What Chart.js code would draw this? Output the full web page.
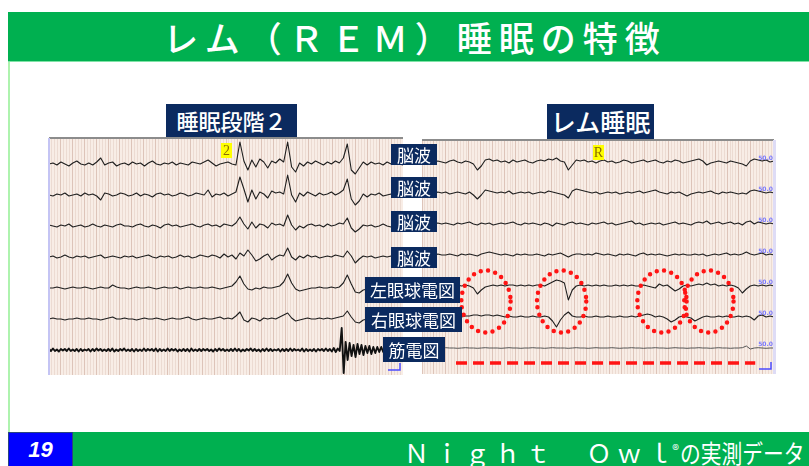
<!DOCTYPE html>
<html lang="ja">
<head>
<meta charset="utf-8">
<script src="https://cdn.jsdelivr.net/npm/chart.js@4.4.1/dist/chart.umd.min.js"></script>
<style>
  body { margin:0; width:809px; height:466px; position:relative; overflow:hidden; background:#fff;
         font-family:"Noto Sans CJK JP", "Noto Sans", sans-serif; }
  .abs { position:absolute; }
  #head { left:8px; top:12px; width:801px; height:49px; background:#00b050; border-bottom:1px solid #7fe3a6; }
  #title { left:0; top:12px; width:830px; text-align:center; color:#fff; font-size:35px; line-height:49px;
           letter-spacing:7px; font-weight:500; white-space:nowrap; }
  #leftRule { left:8px; top:62px; width:2px; height:370px; background:#aef3ae; }
  #foot { left:8px; top:432px; width:801px; height:34px; background:#00b050; }
  #num { left:8px; top:432px; width:63px; height:33px; background:#0000ff; border:1px solid #2a4480; color:#fff;
         font:italic bold 22px "Liberation Sans", Arial, sans-serif; line-height:34px; text-align:center; }
  #footTxt { left:404px; top:432px; color:#fff; font-size:25px; line-height:34px; white-space:nowrap; }
  #footTxt .lat { letter-spacing:5.4px; }
  #footTxt .ell { margin-right:0; }
  #footTxt .reg { font-size:14px; vertical-align:8px; margin-right:1px; }
  #footTxt .jp { display:inline-block; transform:scaleX(0.83); transform-origin:left center; }
  .panel { background:#f8ede6; }
  .lbl { background:#0b2a5f; color:#fff; text-align:center; font-size:17px; white-space:nowrap; }
  .ttl { background:#0b2a5f; color:#fff; text-align:center; white-space:nowrap; font-weight:500; }
</style>
</head>
<body>
<div id="head" class="abs"></div>
<div id="title" class="abs">レム（ＲＥＭ）睡眠の特徴</div>
<div id="leftRule" class="abs"></div>

<div class="abs ttl" style="left:166px;top:104px;width:131px;height:33px;font-size:22px;line-height:33px;">睡眠段階２</div>
<div class="abs ttl" style="left:547px;top:104px;width:107px;height:35px;font-size:25px;line-height:35px;">レム睡眠</div>

<div class="abs panel" style="left:49px;top:138px;width:354px;height:237px;">
  <canvas id="n2Chart" width="354" height="237"></canvas>
</div>
<div class="abs" style="left:49px;top:137px;width:354px;height:2px;background:#8c8c8c;"></div>
<div class="abs" style="left:48px;top:138px;width:2px;height:237px;background:#c4c4f4;"></div>

<div class="abs panel" style="left:422px;top:140px;width:352px;height:234px;">
  <canvas id="remChart" width="352" height="234"></canvas>
</div>
<div class="abs" style="left:422px;top:139px;width:352px;height:2px;background:#8c8c8c;"></div>
<div class="abs" style="left:773px;top:140px;width:3px;height:234px;background:#dedcf6;"></div>

<div class="abs lbl" style="left:391px;top:144px;width:46px;height:21px;line-height:21px;">脳波</div>
<div class="abs lbl" style="left:391px;top:177px;width:46px;height:21px;line-height:21px;">脳波</div>
<div class="abs lbl" style="left:391px;top:211px;width:46px;height:21px;line-height:21px;">脳波</div>
<div class="abs lbl" style="left:391px;top:247px;width:46px;height:21px;line-height:21px;">脳波</div>
<div class="abs lbl" style="left:365px;top:277px;width:95px;height:26px;line-height:26px;">左眼球電図</div>
<div class="abs lbl" style="left:365px;top:307px;width:97px;height:25px;line-height:25px;">右眼球電図</div>
<div class="abs lbl" style="left:383px;top:337px;width:62px;height:25px;line-height:25px;">筋電図</div>

<div id="foot" class="abs"></div>
<div id="num" class="abs">19</div>
<div id="footTxt" class="abs"><span class="lat">Ｎｉｇｈｔ　Ｏｗ</span><span class="ell">ｌ</span><span class="reg">®</span><span class="jp">の実測データ</span></div>

<script>
// 30-second epoch, samples (amplitude roughly in px of the original trace)
const EPOCH_SEC = 30;
const channelNames = ['脳波', '脳波', '脳波', '脳波', '左眼球電図', '右眼球電図', '筋電図'];

// stage 2 sleep (left)
const n2Eeg1 = [0,1,-1,2,0,-2,1,3,0,-1, 1,-1,2,6,-1,1,2,-2,0,1, -1,2,0,1,-2,1,3,0,-1,1,
  0,2,-1,1,0,-1,2,1,0,2, 4,1,-2,0,1,2,0,-1,22,3, -6,4,-3,5,2,-4,3,1,5,2,
  22,-3,-8,1,-2,2,0,3,1,-1, 2,0,3,1,6,20,-6,-10,-4,2, -1,2,0,1,-1,2,0,1,0,-1];
const n2Eeg2 = [0,-1,1,0,2,-1,0,1,-1,2, 0,1,-1,-5,2,1,-1,0,2,1, -1,0,2,-1,1,0,-2,1,2,0,
  1,-1,0,2,1,-1,0,2,1,0, 5,-2,1,0,2,-1,1,3,18,6, -7,5,-4,3,1,-3,4,2,3,1,
  20,0,-7,2,-1,3,1,-1,2,0, 1,3,0,2,5,16,-4,-10,-6,1, -2,1,0,2,-1,0,1,-1,0,1];
const n2Eeg3 = [1,0,-1,1,0,2,-1,0,1,-1, 0,2,0,-1,1,0,-1,1,2,0, 0,-1,1,2,0,-1,1,0,-2,1,
  2,0,1,-1,0,1,2,0,-1,1, 2,0,1,-1,2,1,0,3,9,2, -3,4,-2,2,1,-2,3,1,2,0,
  11,1,-4,0,-2,1,2,0,1,-1, 2,0,1,3,2,8,-2,-6,-3,1, 0,1,-1,0,2,0,-1,1,0,1];
const n2Eeg4 = [0,1,-1,0,2,0,-1,1,0,1, -1,0,1,2,-1,0,1,0,-1,1, 0,1,-1,0,1,2,0,-1,1,0,
  1,-1,0,2,0,1,-1,0,2,1, 0,2,1,-1,3,0,2,-2,4,1, 7,2,-4,-2,1,3,-3,0,2,1,
  9,0,-3,1,-1,2,0,1,-1,0, 1,0,2,1,0,6,1,-6,-2,1, 0,1,-1,0,1,0,1,-1,0,0];
const n2EogL = [0,0,1,0,-1,0,1,0,0,1, 0,-1,0,1,0,0,3,1,0,0, -1,0,1,0,0,1,0,-1,0,1,
  0,0,1,-1,0,1,0,0,1,0, 0,1,0,-1,0,1,2,6,12,4, -1,-2,0,-1,1,0,0,1,2,6,
  14,5,-1,-3,-2,-1,0,0,1,0, 0,1,0,1,5,13,4,-4,-5,-2, -1,0,1,0,0,1,0,-1,0,0];
const n2EogR = [0,1,0,0,-1,0,0,1,0,0, 1,0,0,-1,0,1,2,0,0,1, 0,0,-1,0,1,0,0,1,0,-1,
  0,1,0,0,1,2,0,-1,0,1, 0,0,1,2,0,1,0,3,7,-1, -3,1,0,-2,1,0,1,0,2,4,
  6,1,-2,-1,0,1,0,0,1,0, 1,0,1,2,3,8,2,-3,-4,-1, 0,1,0,0,-1,0,1,0,0,0];
// chin EMG is sampled twice as densely (fast activity + arousal burst)
const n2Emg = [1,-1,1.5,-1,0.5,-1.5,1,-0.5,1,-1, 1.5,-1,0.5,-1,1,-1.5,1,-1,0.5,-0.5,
  1,-1.5,1,-1,1.5,-0.5,1,-1,0.5,-1, 1,-1,1.5,-1.5,0.5,-1,1,-0.5,1.5,-1,
  0.5,-1,1,-1.5,1,-1,0.5,-1,1.5,-1, 1,-0.5,1,-1,1.5,-1.5,1,-1,0.5,-1,
  1.5,-1,1,-0.5,1,-1.5,0.5,-1,1,-1, 1,-1.5,1.5,-1,0.5,-1,1,-1,1,-0.5,
  1,-1,0.5,-1.5,1,-1,1.5,-0.5,1,-1, 0.5,-1,1,-1,1.5,-1,1,-1.5,0.5,-1,
  1,-0.5,1.5,-1,1,-1,0.5,-1.5,1,-1, 1.5,-1,1,-1,0.5,-0.5,1,-1.5,1,-1,
  1,-1,1.5,-1,1,-0.5,0.5,-1,1.5,-1.5, 1,-1,0.5,-1,1,-1.5,1,-0.5,1,-1,
  1.5,-1,1,-1.5,2,-2,1.5,-1,22,-23, 8,-10,7,-6,5,-7,6,-4,5,-5,
  4,-3,4,-4,3,-3,3,-2,3,-2, 2,-2,2,-1.5,2,-2,1.5,-1.5,1,-1];

// REM sleep (right)
const remEeg1 = [0,1,-1,0,1,0,-1,1,2,0, -1,1,0,-2,-8,-4,2,3,1,2, 0,1,-1,2,0,1,2,0,-1,1,
  2,1,3,2,4,1,0,-8,-3,2, 1,2,0,1,-1,1,2,0,1,-1, 0,2,1,-1,0,1,2,0,1,2,
  0,-1,1,0,2,1,-1,0,1,2, 3,1,-3,-1,0,1,0,-1,1,0, -1,-2,-4,1,3,2,1,2,0,1];
const remEeg2 = [0,1,0,-1,1,0,1,-1,0,1, 0,-1,1,-2,-6,-2,3,2,1,0, 1,0,2,-1,0,1,0,1,-1,0,
  1,0,2,1,0,-1,-2,-5,2,4, 3,2,1,0,1,-1,0,1,0,1, -1,0,1,0,1,2,0,1,2,3,
  1,0,-1,1,0,1,-1,-3,-1,0, 1,0,1,2,0,-1,1,0,1,0, -1,0,-1,2,3,2,1,0,1,0];
const remEeg3 = [0,1,-1,0,1,0,1,0,-1,1, 0,1,2,0,-1,1,0,1,-1,0, 1,0,1,2,0,-1,1,0,1,0,
  -1,1,0,-2,1,0,-1,1,2,0, 1,0,-1,1,0,1,2,0,1,-1, 0,1,2,3,0,1,-1,0,1,0,
  1,-1,0,1,2,0,1,0,-1,1, 2,1,3,0,1,2,0,1,2,0, 1,-1,2,3,0,2,1,0,1,0];
const remEeg4 = [0,1,0,-1,1,0,0,1,0,-1, 1,0,1,0,-1,1,2,3,2,1, 0,1,0,-1,1,0,1,0,0,1,
  0,-1,1,0,1,2,0,-2,0,1, 1,0,1,0,2,1,0,1,0,-1, 1,0,1,0,-1,1,2,0,1,0,
  1,0,-1,0,1,0,1,0,0,1, 0,1,-1,0,1,0,1,2,0,1, 0,1,3,1,0,1,2,0,1,0];
const remEogL = [0,0,1,0,-1,0,1,0,0,1, 0,1,0,-2,-8,-4,-1,0,1,0, 1,0,1,1,0,1,0,1,0,1,
  1,0,2,4,6,5,3,-14,-4,0, 1,0,1,0,1,0,1,0,0,1, 0,1,0,1,0,0,1,0,-1,-2,
  2,0,1,-2,-5,-3,0,1,0,1, 2,1,3,1,2,0,1,0,1,0, -2,-7,-3,0,1,0,1,0,1,0];
const remEogR = [0,1,0,0,-1,0,1,0,0,1, 0,1,1,2,2,1,2,2,1,2, 1,0,1,0,0,1,0,0,1,0,
  0,1,0,-4,-10,-3,2,5,1,0, 0,1,0,0,1,0,0,1,0,0, 1,0,0,1,0,1,2,3,2,0,
  1,0,-2,-5,-3,0,1,0,-1,-4, -2,0,1,0,0,1,0,1,0,0, 1,0,1,0,-3,1,2,0,1,0];
const remEmg = [0,0.3,0,-0.3,0,0,0.3,0,0,-0.3, 0,0.3,0,0,-0.3,0,0.3,0,0,0, -0.3,0,0.3,0,0,-0.3,0,0,0.3,0,
  0,-0.3,0,0.3,0,0,0,-0.3,0,0.3, 0,0,-0.3,0,0.3,0,0,0,0.3,0, -0.3,0,0,0.3,0,0,-0.3,0,0,0.3,
  0,0,-0.3,0,0.3,0,0,-0.3,0,0, 0.3,0,0,-0.3,0,0.3,0,0,-0.3,0, 0,0.3,2,-1,0,0.3,0,-0.3,0,0];

const n2Traces = [n2Eeg1, n2Eeg2, n2Eeg3, n2Eeg4, n2EogL, n2EogR, n2Emg];
const remTraces = [remEeg1, remEeg2, remEeg3, remEeg4, remEogL, remEogR, remEmg];

// eye movements circled on the REM record: [centre sec, radius sec]
const remCircles = [[5.45, 2.1], [11.9, 2.1], [20.45, 2.1], [24.45, 2.1]];
const atoniaSpan = [2.9, 28.4];   // dashed line under the flat chin EMG
const epochMarkSec = 15;

const CH_GAP = 31;                // vertical spacing between channels
const offsetOf = i => (channelNames.length - 1 - i) * CH_GAP;

function buildDatasets(traces, emgStyle) {
  return traces.map((tr, i) => {
    const step = EPOCH_SEC / (tr.length - 1);
    const isEmg = i === traces.length - 1;
    return {
      label: channelNames[i],
      data: tr.map((v, k) => ({ x: k * step, y: v + offsetOf(i) })),
      borderColor: isEmg ? emgStyle.color : '#1e1e1e',
      borderWidth: isEmg ? emgStyle.width : 1.1,
      pointRadius: 0,
      tension: 0,
      borderJoinStyle: 'round'
    };
  });
}

const panelDecor = {
  id: 'panelDecor',
  afterDatasetsDraw(chart, args, opts) {
    const { ctx, chartArea: a, scales: { x, y } } = chart;
    ctx.save();
    // epoch marker (yellow tag)
    const mx = x.getPixelForValue(epochMarkSec);
    ctx.fillStyle = '#ffff00';
    ctx.fillRect(mx - 5, a.top + 5, 11, 15);
    ctx.fillStyle = '#8a6d00';
    ctx.font = '14px "Liberation Serif", serif';
    ctx.textAlign = 'center';
    ctx.textBaseline = 'middle';
    ctx.fillText(opts.mark, mx + 0.5, a.top + 13);

    // sensitivity labels at the right end
    if (opts.gainLabel) {
      ctx.fillStyle = '#7a7aff';
      ctx.font = 'bold 6px "DejaVu Sans", sans-serif';
      ctx.textAlign = 'right';
      ctx.textBaseline = 'bottom';
      channelNames.forEach((_, i) => ctx.fillText(opts.gainLabel, a.right - 1, y.getPixelForValue(offsetOf(i)) - 1));
    }

    // blue corner mark
    ctx.strokeStyle = '#4b4bff';
    ctx.lineWidth = 1.5;
    ctx.beginPath();
    ctx.moveTo(a.right - 15, a.bottom - 5);
    ctx.lineTo(a.right - 3, a.bottom - 5);
    ctx.lineTo(a.right - 3, a.bottom - 12);
    ctx.stroke();

    if (opts.circles) {
      const yc = y.getPixelForValue((offsetOf(4) + offsetOf(5)) / 2);
      const ry = Math.abs(y.getPixelForValue(CH_GAP) - y.getPixelForValue(0));
      ctx.strokeStyle = '#ff1414';
      ctx.lineWidth = 4.5;
      ctx.lineCap = 'round';
      ctx.setLineDash([0, 7.4]);
      opts.circles.forEach(([t, r]) => {
        const cx = x.getPixelForValue(t);
        const rx = x.getPixelForValue(t + r) - cx;
        ctx.beginPath();
        ctx.ellipse(cx, yc, rx, ry, 0, 0, Math.PI * 2);
        ctx.stroke();
      });
      const ly = y.getPixelForValue(-15);
      ctx.lineCap = 'butt';
      ctx.lineWidth = 3.5;
      ctx.setLineDash([11, 6]);
      ctx.beginPath();
      ctx.moveTo(x.getPixelForValue(opts.span[0]), ly);
      ctx.lineTo(x.getPixelForValue(opts.span[1]), ly);
      ctx.stroke();
    }
    ctx.restore();
  }
};

function makeChart(id, traces, yMin, yMax, emgStyle, decor) {
  return new Chart(document.getElementById(id), {
    type: 'line',
    data: { datasets: buildDatasets(traces, emgStyle) },
    options: {
      responsive: false,
      animation: false,
      events: [],
      layout: { padding: 0 },
      plugins: { legend: { display: false }, tooltip: { enabled: false }, panelDecor: decor },
      scales: {
        x: {
          type: 'linear', min: 0, max: EPOCH_SEC,
          ticks: { display: false, stepSize: 0.25 },
          grid: {
            drawTicks: false,
            lineWidth: 1,
            color: c => (c.tick && c.tick.value % 1 === 0) ? '#ddc4b9' : '#ecdbd2'
          },
          border: { display: false }
        },
        y: { display: false, min: yMin, max: yMax }
      }
    },
    plugins: [panelDecor]
  });
}

makeChart('n2Chart', n2Traces, -25, 212, { color: '#111', width: 1.9 }, { mark: '2' });
makeChart('remChart', remTraces, -26, 208, { color: '#555', width: 1 },
  { mark: 'R', gainLabel: '50.0', circles: remCircles, span: atoniaSpan });
</script>
</body>
</html>
